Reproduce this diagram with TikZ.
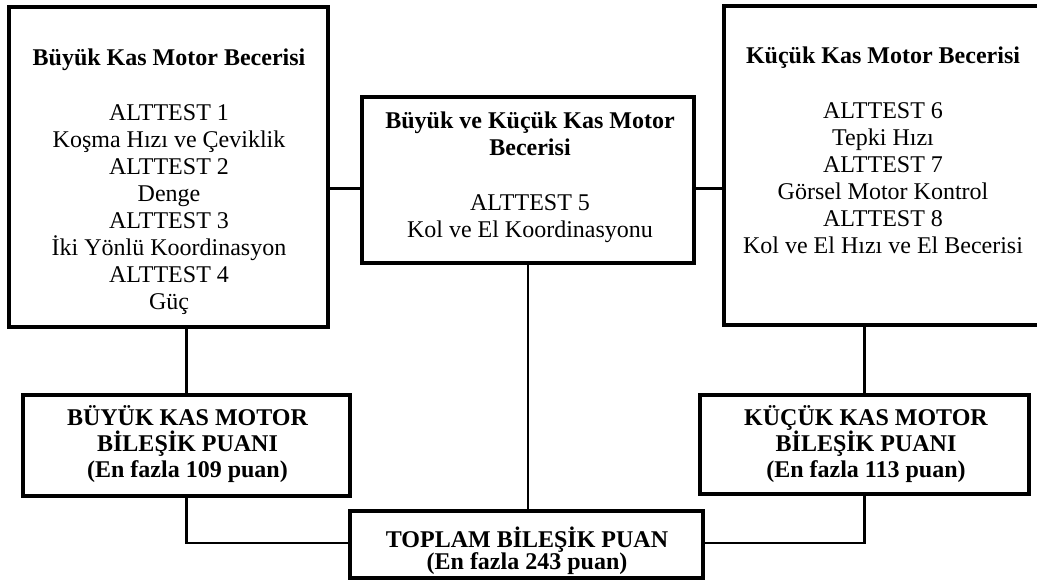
\documentclass[tikz,border=0pt]{standalone}
\usepackage{fontspec}
\setmainfont{Liberation Serif}
\newcommand\fl{\rule{0pt}{17pt}}
\begin{document}
\begin{tikzpicture}[x=0.75pt,y=-0.75pt,
  box/.style={draw, line width=2.6pt, inner sep=0pt, outer sep=0pt, rectangle},
  txt/.style={font=\fontsize{18}{20.25}\selectfont, align=center, inner sep=0pt, anchor=north},
  btxt/.style={txt, font=\fontsize{18}{20.25}\selectfont\bfseries},
  link/.style={line width=2.1pt}]
\useasboundingbox (0,0) rectangle (1037,583);

% texts
\node[txt] (Lt) at (169,42.8) {\fl\textbf{Büyük Kas Motor Becerisi}\\[21pt]
  ALTTEST 1\\Koşma Hızı ve Çeviklik\\ALTTEST 2\\Denge\\ALTTEST 3\\İki Yönlü Koordinasyon\\ALTTEST 4\\Güç};
\node[txt] (Mt) at (530,105.3) {\fl\textbf{Büyük ve Küçük Kas Motor}\\\textbf{Becerisi}\\[21pt]
  ALTTEST 5\\Kol ve El Koordinasyonu};
\node[txt] (Rt) at (883,40.8) {\fl\textbf{Küçük Kas Motor Becerisi}\\[21pt]
  ALTTEST 6\\Tepki Hızı\\ALTTEST 7\\Görsel Motor Kontrol\\ALTTEST 8\\Kol ve El Hızı ve El Becerisi};
\node[btxt] (BLt) at (187.5,403) {\fl BÜYÜK KAS MOTOR\\[-0.75pt]BİLEŞİK PUANI\\[-0.75pt](En fazla 109 puan)};
\node[btxt] (BRt) at (866,403) {\fl KÜÇÜK KAS MOTOR\\[-0.75pt]BİLEŞİK PUANI\\[-0.75pt](En fazla 113 puan)};
\node[btxt] (Tt) at (527,524.5) {\fl TOPLAM BİLEŞİK PUAN\\[-3.75pt](En fazla 243 puan)};

% boxes
\node[box, minimum width=239.25pt, minimum height=240pt] (L) at (168.5,167) {};
\node[box, minimum width=249pt, minimum height=124.5pt] (M) at (528,180) {};
\node[box, minimum width=237pt, minimum height=239.25pt] (R) at (882,165.5) {};
\node[box, minimum width=245.25pt, minimum height=75.75pt] (BL) at (186.5,445.5) {};
\node[box, minimum width=246.75pt, minimum height=74.25pt] (BR) at (864.5,444.5) {};
\node[box, minimum width=264.75pt, minimum height=50.25pt] (T) at (526.5,544.5) {};

% connectors
\coordinate (hy) at (0,188.5);
\coordinate (ly) at (0,543);
\draw[link] (L.east |- hy) -- (M.west |- hy);
\draw[link] (M.east |- hy) -- (R.west |- hy);
\draw[link] (L.south -| BL.north) -- (BL.north);
\draw[link] (R.south -| BR.north) -- (BR.north);
\draw[link] (M.south) -- (M.south |- T.north);
\draw[link] (BL.south) -- (BL.south |- ly) -- (T.west |- ly);
\draw[link] (BR.south) -- (BR.south |- ly) -- (T.east |- ly);
\end{tikzpicture}
\end{document}
